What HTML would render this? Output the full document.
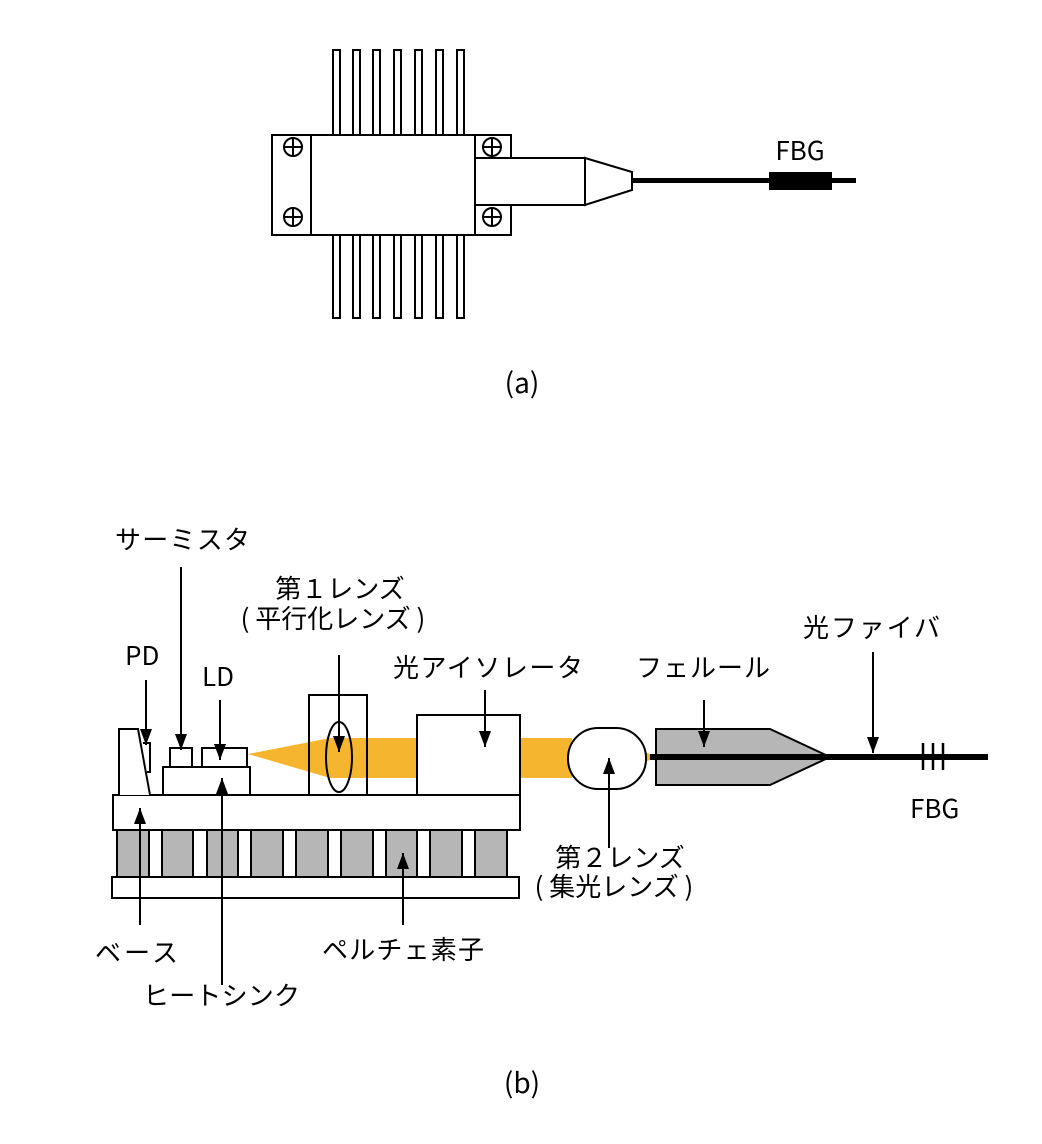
<!DOCTYPE html>
<html><head><meta charset="utf-8"><style>
html,body{margin:0;padding:0;background:#fff}
svg{display:block}
text{font-family:"Noto Sans CJK JP","Liberation Sans",sans-serif;font-size:26px;fill:#000}
</style></head><body>
<svg width="1042" height="1144" viewBox="0 0 1042 1144" xmlns="http://www.w3.org/2000/svg">
<defs><marker id="ah" markerWidth="16" markerHeight="12" refX="16" refY="6" orient="auto" markerUnits="userSpaceOnUse"><path d="M0,0 L16,6 L0,12 Z" fill="#000"/></marker></defs>
<g fill="#fff" stroke="#000" stroke-width="2">
<rect x="333" y="50" width="7" height="85"/><rect x="353" y="50" width="7" height="85"/><rect x="373" y="50" width="7" height="85"/><rect x="394" y="50" width="7" height="85"/><rect x="415" y="50" width="7" height="85"/><rect x="436" y="50" width="7" height="85"/><rect x="457" y="50" width="7" height="85"/>
<rect x="333" y="235" width="7" height="83"/><rect x="353" y="235" width="7" height="83"/><rect x="373" y="235" width="7" height="83"/><rect x="394" y="235" width="7" height="83"/><rect x="415" y="235" width="7" height="83"/><rect x="436" y="235" width="7" height="83"/><rect x="457" y="235" width="7" height="83"/>
<rect x="272" y="135" width="39" height="100"/>
<rect x="475" y="135" width="36" height="100"/>
<rect x="311" y="135" width="164" height="100"/>
<circle cx="293" cy="147" r="9"/><circle cx="293" cy="217" r="9"/><circle cx="492" cy="147" r="9"/><circle cx="492" cy="217" r="9"/>
<path d="M284,147H302M293,138V156M284,217H302M293,208V226M483,147H501M492,138V156M483,217H501M492,208V226" fill="none"/>
<rect x="475" y="158" width="110" height="47"/>
<path d="M585,158 L632,172 L632,190 L585,205 Z"/>
</g>
<rect x="632" y="178" width="224" height="5" fill="#000"/>
<rect x="769" y="172" width="63" height="18" fill="#000"/>
<text x="800" y="160" text-anchor="middle">FBG</text>
<text x="522" y="393" text-anchor="middle" style="font-size:28px">(a)</text>

<path d="M248,754 L330,738 L417,738 L417,778 L330,778 Z" fill="#f6b52e"/>
<rect x="520" y="738" width="52" height="40" fill="#f6b52e"/>
<path d="M645,752 L657,757 L645,762 Z" fill="#f6b52e"/>
<g fill="#b5b6b5" stroke="#000" stroke-width="2">
<rect x="117" y="830" width="32" height="47"/><rect x="162" y="830" width="31" height="47"/><rect x="207" y="830" width="31" height="47"/><rect x="251" y="830" width="32" height="47"/><rect x="296" y="830" width="32" height="47"/><rect x="341" y="830" width="32" height="47"/><rect x="386" y="830" width="31" height="47"/><rect x="430" y="830" width="32" height="47"/><rect x="475" y="830" width="32" height="47"/>
<path d="M656,729 L770,729 L830,757 L770,785 L656,785 Z"/>
</g>
<g fill="#fff" stroke="#000" stroke-width="2">
<rect x="112" y="877" width="407" height="21"/>
<rect x="113" y="795" width="407" height="35"/>
<path d="M119,795 L119,729 L138,729 L150,795"/>
<path d="M143,743 L150,743 L150,772 L147,772"/>
<rect x="163" y="767" width="87" height="28"/>
<rect x="170" y="748" width="22" height="19"/>
<rect x="202" y="748" width="45" height="19"/>
<rect x="309" y="695" width="58" height="100" fill="none"/>
<ellipse cx="339" cy="757" rx="13" ry="35" fill="none"/>
<rect x="417" y="715" width="103" height="80"/>
<rect x="568" y="728" width="78" height="61" rx="30" ry="30"/>
</g>
<rect x="650" y="754" width="338" height="6" fill="#000"/>
<path d="M923,743V770M933,743V770M943,743V770" stroke="#000" stroke-width="2.5"/>
<g stroke="#000" stroke-width="2" marker-end="url(#ah)">
<line x1="146" y1="680" x2="146" y2="745"/>
<line x1="181" y1="567" x2="181" y2="750"/>
<line x1="220" y1="700" x2="220" y2="760"/>
<line x1="339" y1="655" x2="339" y2="752"/>
<line x1="485" y1="690" x2="485" y2="747"/>
<line x1="704" y1="700" x2="704" y2="747"/>
<line x1="873" y1="652" x2="873" y2="753"/>
<line x1="609" y1="848" x2="609" y2="758"/>
<line x1="140" y1="925" x2="140" y2="808"/>
<line x1="222" y1="985" x2="222" y2="778"/>
<line x1="403" y1="925" x2="403" y2="853"/>
</g>
<text x="115" y="549" textLength="135">サーミスタ</text>
<text x="125" y="665">PD</text>
<text x="202" y="686">LD</text>
<text x="340" y="598" text-anchor="middle">第１レンズ</text>
<text x="333" y="628" text-anchor="middle">( 平行化レンズ )</text>
<text x="393" y="677" textLength="190">光アイソレータ</text>
<text x="636" y="677" textLength="134">フェルール</text>
<text x="803" y="637" textLength="137">光ファイバ</text>
<text x="910" y="818">FBG</text>
<text x="620" y="867" text-anchor="middle">第２レンズ</text>
<text x="614" y="896" text-anchor="middle">( 集光レンズ )</text>
<text x="95" y="962" textLength="83">ベース</text>
<text x="143" y="1005" textLength="157">ヒートシンク</text>
<text x="322" y="959" textLength="162">ペルチェ素子</text>
<text x="522" y="1093" text-anchor="middle" style="font-size:28px">(b)</text>
</svg>
</body></html>
